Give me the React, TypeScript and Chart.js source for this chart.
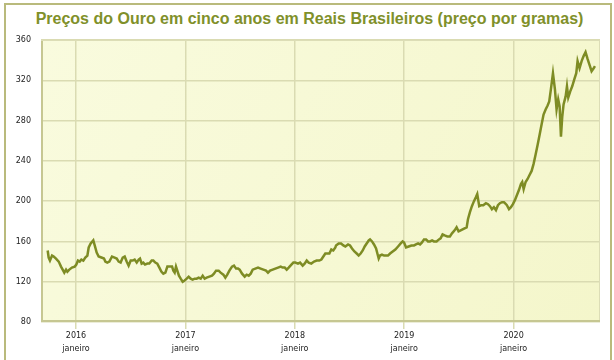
import React, { useEffect, useRef } from "react";
import { Chart, registerables } from "chart.js";

Chart.register(...registerables);

const TITLE = "Preços do Ouro em cinco anos em Reais Brasileiros (preço por gramas)";
const yearTicks = [2016, 2017, 2018, 2019, 2020];
const monthLabel = "janeiro";
const yMin = 80;
const yMax = 360;
const yStep = 40;

// decimal year of each observation
const years = [
  2015.741, 2015.750, 2015.762, 2015.781, 2015.796, 2015.817, 2015.842, 2015.863, 2015.878, 2015.893,
  2015.909, 2015.921, 2015.939, 2015.963, 2015.988, 2016.003, 2016.018, 2016.034, 2016.049, 2016.067,
  2016.085, 2016.104, 2016.116, 2016.134, 2016.158, 2016.171, 2016.189, 2016.207, 2016.232, 2016.256,
  2016.268, 2016.286, 2016.305, 2016.329, 2016.353, 2016.372, 2016.390, 2016.408, 2016.427, 2016.445,
  2016.463, 2016.481, 2016.500, 2016.518, 2016.536, 2016.555, 2016.573,
  2016.585, 2016.600, 2016.615, 2016.631, 2016.652, 2016.670, 2016.692, 2016.707, 2016.725, 2016.743,
  2016.762, 2016.780, 2016.798, 2016.817, 2016.835, 2016.859, 2016.878, 2016.890, 2016.902, 2016.914,
  2016.926, 2016.941, 2016.957, 2016.975, 2016.990, 2017.012, 2017.030, 2017.048, 2017.066, 2017.085,
  2017.103, 2017.121, 2017.140, 2017.158, 2017.176, 2017.194, 2017.219, 2017.243, 2017.261, 2017.280,
  2017.304, 2017.322, 2017.347, 2017.365, 2017.383, 2017.402, 2017.426, 2017.444, 2017.463,
  2017.481, 2017.496, 2017.518, 2017.542, 2017.560, 2017.579, 2017.597, 2017.615, 2017.639, 2017.664,
  2017.688, 2017.713, 2017.737, 2017.755, 2017.774, 2017.798, 2017.822, 2017.847, 2017.871, 2017.889,
  2017.908, 2017.926, 2017.944, 2017.969, 2017.987, 2018.005, 2018.029, 2018.048, 2018.072, 2018.090,
  2018.109, 2018.127, 2018.151, 2018.176, 2018.200, 2018.224, 2018.243, 2018.261, 2018.279, 2018.298,
  2018.316, 2018.334, 2018.352, 2018.371,
  2018.377, 2018.401, 2018.423, 2018.444, 2018.462, 2018.487, 2018.505, 2018.523, 2018.545, 2018.566,
  2018.584, 2018.602, 2018.621, 2018.639, 2018.657, 2018.676, 2018.688, 2018.706, 2018.724, 2018.743,
  2018.755, 2018.767, 2018.779, 2018.797, 2018.816, 2018.834, 2018.852, 2018.871, 2018.895, 2018.919,
  2018.944, 2018.968, 2018.986, 2018.999, 2019.017, 2019.041, 2019.066, 2019.090, 2019.108, 2019.127,
  2019.145, 2019.163, 2019.181, 2019.200, 2019.218, 2019.236, 2019.255,
  2019.272, 2019.296, 2019.318, 2019.333, 2019.351, 2019.370, 2019.394, 2019.418, 2019.437, 2019.461,
  2019.479, 2019.497, 2019.516, 2019.534, 2019.552, 2019.571, 2019.583, 2019.601, 2019.619, 2019.638,
  2019.656, 2019.668, 2019.686, 2019.705, 2019.723, 2019.747, 2019.766, 2019.784, 2019.802, 2019.820,
  2019.839, 2019.857, 2019.875, 2019.894, 2019.912,
  2019.921, 2019.939, 2019.958, 2019.976, 2019.994, 2020.012, 2020.031, 2020.049, 2020.067, 2020.079,
  2020.092, 2020.110, 2020.128, 2020.146, 2020.165, 2020.183, 2020.201, 2020.220, 2020.238, 2020.256,
  2020.274, 2020.293, 2020.311, 2020.326, 2020.341, 2020.360, 2020.378, 2020.393, 2020.408, 2020.421,
  2020.433, 2020.445, 2020.457, 2020.476, 2020.488, 2020.500, 2020.518, 2020.536, 2020.555, 2020.573,
  2020.585, 2020.603, 2020.622, 2020.640, 2020.658, 2020.677, 2020.695, 2020.713, 2020.732, 2020.744,
];

// price in R$ per gram
const prices = [
  151, 144, 141, 146, 145, 143, 140, 135, 132, 129,
  132, 130, 132, 134, 135, 137, 141, 140, 142, 141,
  144, 146, 154, 158, 161, 156, 149, 145, 144, 143,
  140, 139, 140, 145, 144, 143, 140, 139, 144, 145,
  140, 136, 141, 141, 142, 139, 142,
  143, 138, 139, 137, 138, 138, 141, 141, 139, 138,
  134, 130, 128, 129, 135, 135, 135, 131, 129, 135,
  131, 126, 123, 120, 121, 123, 125, 123, 122, 123,
  123, 124, 123, 126, 123, 124, 125, 126, 128, 131,
  131, 129, 127, 124, 127, 131, 135, 136, 133,
  133, 132, 128, 125, 127, 126, 128, 132, 133, 134,
  133, 132, 131, 129, 131, 132, 133, 134, 135, 134,
  134, 132, 134, 137, 139, 139, 138, 139, 136, 138,
  141, 139, 138, 140, 141, 141, 142, 145, 148, 148,
  148, 152, 151, 154,
  156, 158, 158, 156, 155, 157, 156, 153, 150, 148,
  146, 148, 151, 155, 158, 161, 162, 160, 157, 153,
  148, 143, 146, 147, 146, 146, 146, 148, 150, 152,
  155, 158, 160, 159, 154, 155, 156, 156, 157, 158,
  157, 159, 162, 162, 160, 160, 161,
  160, 160, 162, 163, 167, 166, 165, 165, 168, 171,
  174, 170, 171, 172, 173, 174, 182, 189, 195, 200,
  204, 207, 195, 196, 196, 198, 197, 195, 192, 194,
  191, 196, 198, 199, 199,
  198, 196, 192, 194, 197, 201, 206, 211, 217, 219,
  212, 219, 222, 226, 230, 237, 246, 256, 266, 276,
  286, 291, 295, 299, 311, 327, 311, 291, 301, 294,
  264, 284, 296, 304, 314, 303, 309, 314, 321, 327,
  339, 332, 339, 344, 348, 341, 335, 329, 332, 334,
];

const GRID = "#dadbb2";

const plotFrame = {
  id: "plotFrame",
  beforeDraw(chart: any) {
    const { ctx, chartArea: a } = chart;
    ctx.save();
    const g = ctx.createLinearGradient(a.left, a.top, a.right, a.bottom);
    g.addColorStop(0, "#f9fbde");
    g.addColorStop(1, "#f4f6cb");
    ctx.fillStyle = g;
    ctx.fillRect(a.left, a.top, a.right - a.left, a.bottom - a.top);
    ctx.restore();
  },
  beforeDatasetsDraw(chart: any) {
    const { ctx, chartArea: a } = chart;
    ctx.save();
    ctx.strokeStyle = "#dcddb6";
    ctx.lineWidth = 1;
    ctx.strokeRect(a.left + 0.5, a.top + 0.5, a.right - a.left - 1, a.bottom - a.top - 1);
    ctx.strokeStyle = "#c6c792";
    ctx.lineWidth = 2;
    ctx.beginPath();
    ctx.moveTo(a.left + 1, a.top + 1);
    ctx.lineTo(a.left + 1, a.bottom - 1);
    ctx.lineTo(a.right, a.bottom - 1);
    ctx.stroke();
    ctx.restore();
  },
};

export default function App() {
  const ref = useRef<HTMLCanvasElement | null>(null);

  useEffect(() => {
    if (!ref.current) return;
    const chart = new Chart(ref.current, {
      type: "line",
      data: {
        datasets: [
          {
            data: years.map((x, i) => ({ x, y: prices[i] })),
            borderColor: "#7e8c24",
            borderWidth: 2.5,
            pointRadius: 0,
            tension: 0,
            fill: false,
          },
        ],
      },
      options: {
        responsive: false,
        animation: false,
        devicePixelRatio: 1,
        layout: { padding: { left: 0, right: 14, top: 40, bottom: 0 } },
        plugins: {
          legend: { display: false },
          tooltip: { enabled: false },
          title: { display: false },
        },
        scales: {
          x: {
            type: "linear",
            min: 2015.68,
            max: 2020.79,
            afterBuildTicks: (s: any) => {
              s.ticks = yearTicks.map((v) => ({ value: v }));
            },
            afterFit: (s: any) => {
              s.height = 38;
            },
            border: { display: false },
            grid: { color: GRID, lineWidth: 1.5, drawTicks: true, tickLength: 7, tickColor: GRID },
            ticks: {
              autoSkip: false,
              maxRotation: 0,
              padding: 0,
              color: "#222",
              font: { family: "'DejaVu Sans', Verdana, sans-serif", size: 8, lineHeight: 1.625 },
              callback: (v: any) => [String(v), monthLabel],
            },
          },
          y: {
            min: yMin,
            max: yMax,
            afterFit: (s: any) => {
              s.width = 41;
            },
            border: { display: false },
            grid: { color: GRID, lineWidth: 1.5, drawTicks: false },
            ticks: {
              stepSize: yStep,
              padding: 10,
              color: "#222",
              font: { family: "'DejaVu Sans', Verdana, sans-serif", size: 8 },
            },
          },
        },
      },
      plugins: [plotFrame],
    });
    return () => chart.destroy();
  }, []);

  return (
    <div
      style={{
        position: "fixed",
        left: 0,
        top: 0,
        width: 614,
        height: 360,
        background: "#fff",
        overflow: "hidden",
      }}
    >
      <div
        style={{
          position: "absolute",
          left: 4,
          top: 3,
          width: 608,
          height: 420,
          border: "2px solid #b9ba7c",
          boxSizing: "border-box",
        }}
      />
      <div
        style={{
          position: "absolute",
          left: 0,
          top: 9,
          width: 619,
          textAlign: "center",
          fontFamily: "'Liberation Sans', Arial, sans-serif",
          fontWeight: "bold",
          fontSize: 16,
          lineHeight: "19px",
          color: "#80902a",
          whiteSpace: "nowrap",
        }}
      >
        {TITLE}
      </div>
      <canvas ref={ref} width={614} height={360} style={{ position: "absolute", left: 0, top: 0 }} />
    </div>
  );
}
